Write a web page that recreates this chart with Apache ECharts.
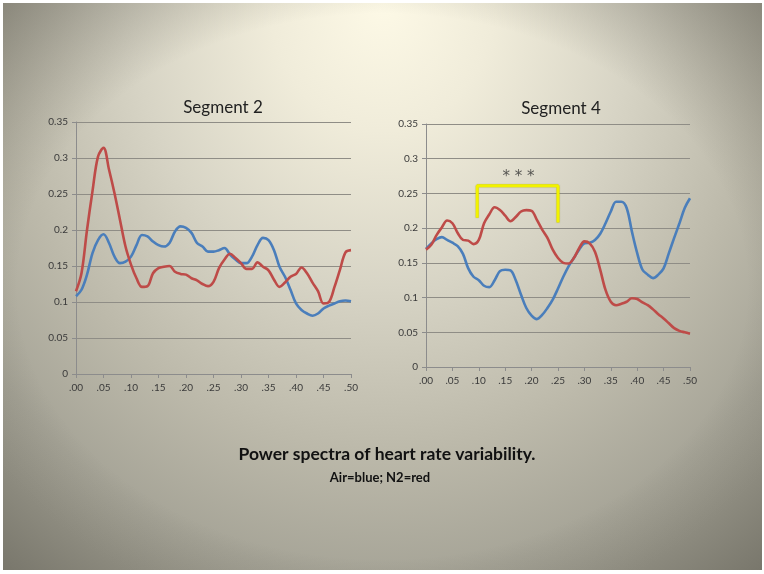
<!DOCTYPE html>
<html>
<head>
<meta charset="utf-8">
<script src="https://cdn.jsdelivr.net/npm/echarts@6/dist/echarts.min.js"></script>
<style>
html,body{margin:0;padding:0;background:#ffffff;}
#bg{position:absolute;left:3px;top:3px;width:759px;height:567px;
background:
 radial-gradient(ellipse farthest-corner at 50% 50%, rgba(60,58,50,0) 68%, rgba(60,58,50,0.4) 100%),
 radial-gradient(ellipse 560px 640px at 50% 0%, #fdf9e6 0%, #f0ecda 20%, #d7d4c5 45%, #bcb9aa 70%, #a6a497 90%, #a19f92 100%);}
#chart{position:absolute;left:0;top:0;width:764px;height:574px;}
</style>
</head>
<body>
<div id="bg"></div>
<div id="chart"></div>
<script>
// frequency (Hz) sample points
const freqs = [0.00,0.01,0.02,0.03,0.04,0.05,0.06,0.07,0.08,0.09,0.10,0.11,0.12,0.13,0.14,0.15,0.16,0.17,0.18,0.19,0.20,0.21,0.22,0.23,0.24,0.25,0.26,0.27,0.28,0.29,0.30,0.31,0.32,0.33,0.34,0.35,0.36,0.37,0.38,0.39,0.40,0.41,0.42,0.43,0.44,0.45,0.46,0.47,0.48,0.49,0.50];
const xTicks = [0.00,0.05,0.10,0.15,0.20,0.25,0.30,0.35,0.40,0.45,0.50];
const yTicks = [0,0.05,0.1,0.15,0.2,0.25,0.3,0.35];

// Segment 2
const seg2Air = [0.108,0.117,0.138,0.168,0.186,0.194,0.182,0.163,0.154,0.156,0.163,0.179,0.193,0.191,0.184,0.179,0.177,0.182,0.198,0.205,0.203,0.196,0.182,0.177,0.170,0.170,0.172,0.175,0.166,0.159,0.154,0.154,0.163,0.179,0.189,0.186,0.172,0.149,0.135,0.117,0.098,0.089,0.084,0.081,0.084,0.091,0.095,0.098,0.101,0.102,0.101];
const seg2N2  = [0.115,0.140,0.200,0.254,0.302,0.314,0.284,0.251,0.214,0.177,0.152,0.133,0.121,0.122,0.140,0.147,0.149,0.150,0.142,0.139,0.138,0.133,0.130,0.125,0.122,0.128,0.147,0.159,0.167,0.161,0.154,0.146,0.146,0.155,0.149,0.144,0.131,0.121,0.127,0.135,0.139,0.148,0.140,0.127,0.115,0.098,0.100,0.121,0.145,0.169,0.172];

// Segment 4
const seg4Air = [0.170,0.178,0.184,0.187,0.183,0.179,0.174,0.163,0.142,0.130,0.125,0.117,0.115,0.125,0.138,0.140,0.139,0.125,0.104,0.085,0.074,0.069,0.075,0.085,0.097,0.113,0.130,0.145,0.157,0.169,0.178,0.179,0.183,0.192,0.207,0.224,0.238,0.238,0.229,0.195,0.164,0.140,0.133,0.128,0.133,0.142,0.164,0.186,0.207,0.229,0.243];
const seg4N2  = [0.169,0.176,0.190,0.201,0.211,0.207,0.193,0.183,0.182,0.177,0.183,0.207,0.220,0.230,0.226,0.218,0.210,0.216,0.224,0.226,0.225,0.212,0.198,0.186,0.169,0.157,0.150,0.149,0.157,0.171,0.181,0.178,0.166,0.140,0.111,0.094,0.089,0.091,0.094,0.099,0.098,0.093,0.089,0.083,0.076,0.070,0.063,0.056,0.052,0.050,0.048];

// significance bracket on Segment 4
const bracketX = [0.097,0.097,0.25,0.25];
const bracketY = [0.215,0.261,0.261,0.208];
const starsPoint = [0.175,0.274];

const airColor = '#4a7ebb', n2Color = '#be4b48';
const pair = (xs, ys) => xs.map((x,i)=>[x, ys[i]]);
const fmtX = v => v.toFixed(2).replace(/^0/, '');
const font = 'Lato, "Open Sans", sans-serif';

function xAxis(gi, margin){
  return {type:'value', gridIndex:gi, min:0, max:0.5, interval:0.05,
    axisLine:{show:true, lineStyle:{color:'#8c8c8c', width:1}},
    axisTick:{show:true, length:4, lineStyle:{color:'#8c8c8c'}},
    splitLine:{show:false},
    axisLabel:{formatter:fmtX, color:'#3a3a3a', fontSize:10, fontFamily:font, margin:margin}};
}
function yAxis(gi){
  return {type:'value', gridIndex:gi, min:0, max:0.35, interval:0.05,
    axisLine:{show:true, lineStyle:{color:'#8c8c8c', width:1}},
    axisTick:{show:true, length:4, lineStyle:{color:'#8c8c8c'}},
    splitLine:{show:true, lineStyle:{color:'#8f8d86', width:1}},
    axisLabel:{color:'#3a3a3a', fontSize:10, fontFamily:font, margin:8,
      formatter: v => String(+v.toFixed(2))}};
}
function lineSeries(gi, data, color){
  return {type:'line', xAxisIndex:gi, yAxisIndex:gi, data:data, showSymbol:false,
    smooth:0.35, lineStyle:{color:color, width:2.6}, itemStyle:{color:color}, z:3, silent:true};
}

const chart = echarts.init(document.getElementById('chart'), null, {renderer:'canvas'});
chart.setOption({
  backgroundColor:'transparent',
  animation:false,
  title:[
    {text:'Segment 2', left:218, top:94, textAlign:'center',
      textStyle:{fontFamily:font, fontSize:17, fontWeight:'normal', color:'#222'}},
    {text:'Segment 4', left:556, top:95, textAlign:'center',
      textStyle:{fontFamily:font, fontSize:17, fontWeight:'normal', color:'#222'}},
    {text:'Power spectra of heart rate variability.', left:382, top:440, textAlign:'center',
      textStyle:{fontFamily:font, fontSize:17.5, fontWeight:'bold', color:'#111'}},
    {text:'Air=blue; N2=red', left:375, top:466, textAlign:'center',
      textStyle:{fontFamily:font, fontSize:13, fontWeight:'bold', color:'#111'}}
  ],
  grid:[
    {left:76, top:122, width:275, height:252},
    {left:426, top:124, width:264, height:243}
  ],
  xAxis:[xAxis(0, 9), xAxis(1, 9)],
  yAxis:[yAxis(0), yAxis(1)],
  series:[
    lineSeries(0, pair(freqs, seg2Air), airColor),
    lineSeries(0, pair(freqs, seg2N2), n2Color),
    lineSeries(1, pair(freqs, seg4Air), airColor),
    lineSeries(1, pair(freqs, seg4N2), n2Color),
    {type:'line', xAxisIndex:1, yAxisIndex:1, data:pair(bracketX, bracketY), showSymbol:false,
      lineStyle:{color:'#f2f200', width:3, shadowColor:'rgba(120,120,0,0.6)', shadowBlur:1}, z:4, silent:true},
    {type:'scatter', xAxisIndex:1, yAxisIndex:1, data:[starsPoint], symbolSize:1,
      itemStyle:{color:'rgba(0,0,0,0)'}, silent:true, z:5,
      label:{show:true, position:'inside', formatter:'* * *', color:'#333',
        fontSize:15, fontFamily:'"DejaVu Sans", sans-serif'}}
  ]
});
</script>
</body>
</html>
